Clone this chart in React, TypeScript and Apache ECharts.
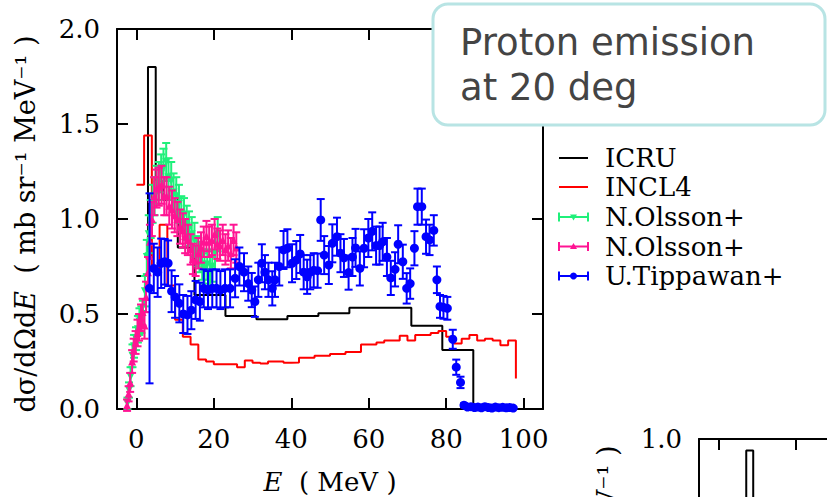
import React, { useEffect, useRef } from 'react';
import * as echarts from 'echarts';

// ---------- data ----------
const xTickValues = [0, 20, 40, 60, 80, 100];
const panel2YLabelValues = [1.0];

// ICRU histogram (step, bin lower edges + values)
const icruE = [0, 3, 5, 7, 10.7, 15, 23, 31, 39, 47, 55, 71, 79, 87];
const icruV = [0.7, 1.8, 1.2, 1.1, 0.85, 0.6, 0.49, 0.472, 0.49, 0.504, 0.533, 0.438, 0.31, 0];

// INCL4 histogram
const incl4E = [0, 2, 4, 6, 8, 10, 12, 14, 16, 18, 20, 22, 24, 26, 28, 30, 32, 34, 36, 38, 40, 42, 44, 46, 48,
  50, 52, 54, 56, 58, 60, 62, 64, 66, 68, 70, 72, 74, 76, 78, 80, 82, 84, 86, 88, 90, 92, 94, 96, 98];
const incl4V = [1.18, 1.44, 0.74, 0.97, 0.65, 0.47, 0.38, 0.34, 0.26, 0.25, 0.235, 0.235, 0.235, 0.22, 0.255,
  0.244, 0.24, 0.25, 0.25, 0.244, 0.245, 0.27, 0.27, 0.28, 0.28, 0.29, 0.29, 0.3, 0.3, 0.34, 0.34, 0.35, 0.36,
  0.36, 0.385, 0.36, 0.39, 0.39, 0.4, 0.41, 0.38, 0.345, 0.37, 0.39, 0.36, 0.37, 0.36, 0.335, 0.36, 0.16];

// N.Olsson+ (green, triangle down)
const olsson1E = [-2.3, -1.9, -1.5, -1.0, -0.6, -0.1, 0.4, 0.8, 1.3, 1.7, 2.2, 2.7, 3.2, 3.7, 4.2, 4.7, 5.2, 5.8,
  6.4, 7.0, 7.7, 8.3, 9.0, 9.6, 10.3, 11.0, 11.6, 12.3, 13.0, 13.6, 14.3, 15.0, 15.6, 16.3, 17.0, 17.6, 18.3,
  19.0, 19.6, 20.3, 21.0];
const olsson1V = [0.03, 0.1, 0.17, 0.28, 0.33, 0.37, 0.42, 0.46, 0.47, 0.5, 0.62, 0.8, 0.92, 1.0, 1.08, 1.12,
  1.18, 1.2, 1.24, 1.27, 1.3, 1.22, 1.2, 1.14, 1.12, 1.08, 1.03, 1.02, 0.98, 0.95, 0.92, 0.89, 0.83, 0.8, 0.76,
  0.74, 0.76, 0.72, 0.75, 0.82, 0.92];
const olsson1Err = [0.03, 0.04, 0.05, 0.06, 0.06, 0.06, 0.07, 0.07, 0.07, 0.07, 0.08, 0.09, 0.1, 0.1, 0.1, 0.1,
  0.1, 0.1, 0.1, 0.1, 0.1, 0.1, 0.1, 0.1, 0.1, 0.1, 0.09, 0.09, 0.09, 0.09, 0.09, 0.09, 0.08, 0.08, 0.08, 0.08,
  0.08, 0.08, 0.08, 0.09, 0.09];

// N.Olsson+ (pink, triangle up)
const olsson2E = [-2.4, -2.0, -1.6, -1.1, -0.7, -0.2, 0.3, 0.7, 1.2, 1.6, 2.1, 2.5, 3.0, 3.5, 4.0, 4.6, 5.2, 5.8,
  6.5, 7.2, 7.8, 8.5, 9.2, 9.9, 10.6, 11.3, 12.0, 12.6, 13.3, 14.0, 14.6, 15.3, 16.0, 16.7, 17.4, 18.1, 18.8,
  19.5, 20.2, 20.9, 21.6, 22.3, 23.0, 23.7, 24.4, 25.1, 25.8];
const olsson2V = [0.02, 0.08, 0.14, 0.25, 0.31, 0.35, 0.4, 0.43, 0.48, 0.51, 0.44, 0.59, 0.72, 0.88, 1.0, 1.12,
  1.16, 1.17, 1.18, 1.12, 1.12, 1.07, 1.05, 1.02, 1.0, 0.96, 0.94, 0.91, 0.89, 0.84, 0.79, 0.78, 0.82, 0.85,
  0.88, 0.91, 0.88, 0.89, 0.92, 0.87, 0.86, 0.89, 0.84, 0.86, 0.82, 0.89, 0.85];
const olsson2Err = [0.03, 0.04, 0.05, 0.06, 0.06, 0.06, 0.07, 0.07, 0.07, 0.07, 0.07, 0.08, 0.08, 0.09, 0.09,
  0.1, 0.1, 0.1, 0.1, 0.1, 0.1, 0.1, 0.1, 0.09, 0.09, 0.09, 0.09, 0.09, 0.08, 0.08, 0.08, 0.08, 0.08, 0.08,
  0.08, 0.08, 0.08, 0.08, 0.08, 0.08, 0.08, 0.08, 0.08, 0.08, 0.08, 0.08, 0.08];

// U.Tippawan+ (blue circles)
const tippE = [3.4, 4.5, 5.5, 6.4, 7.3, 8.2, 9.1, 10.0, 11.1, 12.1, 13.2, 14.2, 15.3, 16.4, 17.4, 18.5, 19.6,
  20.7, 21.7, 22.9, 24.2, 25.5, 26.6, 27.8, 28.9, 29.8, 30.6, 31.5, 32.4, 33.2, 34.1, 35.1, 35.8, 36.9, 38.0,
  39.0, 40.2, 41.3, 42.3, 43.2, 44.1, 44.9, 45.8, 46.8, 47.6, 48.5, 49.7, 50.6, 51.8, 52.7, 53.6, 54.8, 55.8,
  56.6, 57.7, 58.8, 59.9, 60.9, 61.9, 62.8, 63.6, 64.7, 65.7, 66.8, 67.6, 68.8, 69.8, 70.7, 71.8, 72.6, 73.7,
  74.8, 75.7, 76.8, 77.6, 78.4, 79.3, 80.3, 81.7, 82.6, 83.7, 84.6, 85.5, 86.4, 87.3, 88.2, 89.1, 90.0, 90.9,
  91.8, 92.7, 93.6, 94.6, 95.5, 96.4, 97.3];
const tippV = [0.635, 0.74, 0.72, 0.767, 0.775, 0.767, 0.62, 0.59, 0.556, 0.5, 0.495, 0.52, 0.574, 0.565, 0.635,
  0.626, 0.635, 0.635, 0.626, 0.635, 0.635, 0.688, 0.75, 0.72, 0.66, 0.626, 0.565, 0.68, 0.767, 0.72, 0.68,
  0.635, 0.68, 0.75, 0.837, 0.846, 0.767, 0.784, 0.816, 0.72, 0.696, 0.72, 0.73, 0.728, 0.995, 0.81, 0.758,
  0.872, 0.907, 0.82, 0.795, 0.718, 0.8, 0.848, 0.74, 0.846, 0.9, 0.935, 0.86, 0.86, 0.88, 0.8, 0.69, 0.735,
  0.867, 0.775, 0.635, 0.66, 0.846, 1.065, 1.065, 0.907, 0.89, 0.94, 0.68, 0.54, 0.535, 0.53, 0.367, 0.22, 0.14,
  0.02, 0.01, 0.012, 0.008, 0.01, 0.006, 0.012, 0.008, 0.005, 0.01, 0.007, 0.009, 0.006, 0.008, 0.005];
const tippErr = [0.5, 0.13, 0.13, 0.13, 0.12, 0.12, 0.11, 0.11, 0.1, 0.1, 0.1, 0.1, 0.1, 0.1, 0.1, 0.1, 0.1,
  0.1, 0.1, 0.1, 0.1, 0.1, 0.1, 0.1, 0.09, 0.09, 0.08, 0.09, 0.1, 0.09, 0.09, 0.09, 0.09, 0.1, 0.1, 0.1, 0.1,
  0.1, 0.1, 0.09, 0.09, 0.09, 0.09, 0.09, 0.11, 0.1, 0.1, 0.1, 0.1, 0.1, 0.1, 0.09, 0.1, 0.1, 0.09, 0.1, 0.1,
  0.1, 0.1, 0.1, 0.1, 0.1, 0.09, 0.09, 0.1, 0.09, 0.08, 0.08, 0.09, 0.095, 0.095, 0.09, 0.08, 0.08, 0.07,
  0.06, 0.06, 0.06, 0.05, 0.04, 0.03, 0.01, 0.008, 0.008, 0.008, 0.008, 0.006, 0.008, 0.006, 0.005, 0.006,
  0.005, 0.006, 0.005, 0.005, 0.004];

// second (partially visible) panel: ICRU spike
const icru2E = [0, 7.2, 9.0, 20, 40];
const icru2V = [0.35, 0.97, 0.55, 0.3, 0.2];

const legendNames = ['ICRU', 'INCL4', 'N.Olsson+', 'N.Olsson+', 'U.Tippawan+'];
const titleLines = ['Proton emission', 'at 20 deg'];

// ---------- styling ----------
const SERIF = '"DejaVu Serif", serif';
const SANS = '"DejaVu Sans", sans-serif';
const C_ICRU = '#000000';
const C_INCL = '#ff0000';
const C_OL1 = '#1ff07a';
const C_OL2 = '#ff1493';
const C_TIP = '#0000ff';

function errRender(color: string) {
  return (params: any, api: any) => {
    const x = api.value(0);
    const y = api.value(1);
    const e = api.value(2);
    const t = api.coord([x, y + e]);
    const b = api.coord([x, y - e]);
    const hw = 4;
    const st = { stroke: color, lineWidth: 2 };
    return {
      type: 'group',
      children: [
        { type: 'line', shape: { x1: t[0], y1: t[1], x2: b[0], y2: b[1] }, style: st },
        { type: 'line', shape: { x1: t[0] - hw, y1: t[1], x2: t[0] + hw, y2: t[1] }, style: st },
        { type: 'line', shape: { x1: b[0] - hw, y1: b[1], x2: b[0] + hw, y2: b[1] }, style: st },
      ],
    };
  };
}

const axisLine = { show: true, onZero: false, lineStyle: { color: '#000', width: 2 } };
const tickStyle = { show: true, inside: true, length: 11, lineStyle: { color: '#000', width: 2 } };

function buildOption() {
  const icru = icruE.map((e, i) => [e, icruV[i]]);
  const incl = incl4E.map((e, i) => [e, incl4V[i]]);
  const ol1 = olsson1E.map((e, i) => [e, olsson1V[i], olsson1Err[i]]);
  const ol2 = olsson2E.map((e, i) => [e, olsson2V[i], olsson2Err[i]]);
  const tip = tippE.map((e, i) => [e, tippV[i], tippErr[i]]);
  const icru2 = icru2E.map((e, i) => [e, icru2V[i]]);

  const legendRows = [158, 187, 217, 246.5, 276];
  const lx1 = 559, lx2 = 588, lmid = 573.5;
  const legendColors = [C_ICRU, C_INCL, C_OL1, C_OL2, C_TIP];
  const legendGraphics: any[] = [];
  legendRows.forEach((y, i) => {
    const col = legendColors[i];
    legendGraphics.push({ type: 'line', z: 50, shape: { x1: lx1, y1: y, x2: lx2, y2: y }, style: { stroke: col, lineWidth: 2 } });
    if (i >= 2) {
      legendGraphics.push({ type: 'line', z: 50, shape: { x1: lx1, y1: y - 4.5, x2: lx1, y2: y + 4.5 }, style: { stroke: col, lineWidth: 2 } });
      legendGraphics.push({ type: 'line', z: 50, shape: { x1: lx2, y1: y - 4.5, x2: lx2, y2: y + 4.5 }, style: { stroke: col, lineWidth: 2 } });
      if (i === 2) {
        legendGraphics.push({ type: 'polygon', z: 51, shape: { points: [[lmid - 3.5, y - 2.5], [lmid + 3.5, y - 2.5], [lmid, y + 3.5]] }, style: { fill: col } });
      } else if (i === 3) {
        legendGraphics.push({ type: 'polygon', z: 51, shape: { points: [[lmid - 3.5, y + 2.5], [lmid + 3.5, y + 2.5], [lmid, y - 3.5]] }, style: { fill: col } });
      } else {
        legendGraphics.push({ type: 'circle', z: 51, shape: { cx: lmid, cy: y, r: 3.5 }, style: { fill: col } });
      }
    }
    legendGraphics.push({
      type: 'text', z: 50, x: 605, y: y,
      style: { text: legendNames[i], font: `26px ${SERIF}`, fill: '#000', align: 'left', verticalAlign: 'middle' },
    });
  });

  const labelRich = {
    n: { fontFamily: SERIF, fontSize: 26, fill: '#000' },
    i: { fontFamily: SERIF, fontSize: 26, fontStyle: 'italic', fill: '#000' },
  };
  const yRich = {
    n: { fontFamily: SERIF, fontSize: 27, fill: '#000' },
    i: { fontFamily: SERIF, fontSize: 27, fontStyle: 'italic', fill: '#000' },
  };
  const yLabelText = '{n|dσ/dΩd}{i|E}{n|  ( mb sr⁻¹ MeV⁻¹ )}';

  return {
    animation: false,
    backgroundColor: '#ffffff',
    grid: [
      { left: 117, top: 29, width: 426, height: 380 },
      { left: 699, top: 439, width: 426, height: 380 },
    ],
    xAxis: [
      {
        type: 'value', gridIndex: 0, position: 'bottom', min: -5, max: 105,
        axisLine, axisTick: { ...tickStyle, customValues: xTickValues },
        axisLabel: { customValues: xTickValues, fontFamily: SERIF, fontSize: 26, color: '#000', margin: 17 },
        splitLine: { show: false },
      },
      {
        type: 'value', gridIndex: 0, position: 'top', min: -5, max: 105,
        axisLine, axisTick: { ...tickStyle, customValues: xTickValues },
        axisLabel: { show: false }, splitLine: { show: false },
      },
      {
        type: 'value', gridIndex: 1, position: 'bottom', min: -5, max: 105,
        axisLine, axisTick: { ...tickStyle, customValues: xTickValues },
        axisLabel: { show: false }, splitLine: { show: false },
      },
      {
        type: 'value', gridIndex: 1, position: 'top', min: -5, max: 105,
        axisLine, axisTick: { ...tickStyle, customValues: xTickValues },
        axisLabel: { show: false }, splitLine: { show: false },
      },
    ],
    yAxis: [
      {
        type: 'value', gridIndex: 0, position: 'left', min: 0, max: 2, interval: 0.5,
        axisLine, axisTick: tickStyle,
        axisLabel: {
          fontFamily: SERIF, fontSize: 26, color: '#000', margin: 17,
          formatter: (v: number) => v.toFixed(1),
        },
        splitLine: { show: false },
      },
      {
        type: 'value', gridIndex: 0, position: 'right', min: 0, max: 2, interval: 0.5,
        axisLine, axisTick: tickStyle, axisLabel: { show: false }, splitLine: { show: false },
      },
      {
        type: 'value', gridIndex: 1, position: 'left', min: 0, max: 1, interval: 0.2,
        axisLine, axisTick: tickStyle,
        axisLabel: {
          customValues: panel2YLabelValues,
          fontFamily: SERIF, fontSize: 26, color: '#000', margin: 17,
          formatter: (v: number) => v.toFixed(1),
        },
        splitLine: { show: false },
      },
    ],
    series: [
      {
        name: 'ICRU', type: 'line', xAxisIndex: 0, yAxisIndex: 0, step: 'end', data: icru,
        showSymbol: false, symbol: 'none', lineStyle: { color: C_ICRU, width: 2 }, z: 2,
      },
      {
        name: 'INCL4', type: 'line', xAxisIndex: 0, yAxisIndex: 0, step: 'end', data: incl,
        showSymbol: false, symbol: 'none', lineStyle: { color: C_INCL, width: 2 }, z: 2,
      },
      {
        name: 'N.Olsson+ err', type: 'custom', xAxisIndex: 0, yAxisIndex: 0, data: ol1,
        renderItem: errRender(C_OL1), encode: { x: 0, y: 1 }, z: 3,
      },
      {
        name: 'N.Olsson+', type: 'scatter', xAxisIndex: 0, yAxisIndex: 0, data: ol1.map((d) => [d[0], d[1]]),
        symbol: 'triangle', symbolRotate: 180, symbolSize: 8, itemStyle: { color: C_OL1, opacity: 1 }, z: 3,
      },
      {
        name: 'N.Olsson+ 2 err', type: 'custom', xAxisIndex: 0, yAxisIndex: 0, data: ol2,
        renderItem: errRender(C_OL2), encode: { x: 0, y: 1 }, z: 4,
      },
      {
        name: 'N.Olsson+ 2', type: 'scatter', xAxisIndex: 0, yAxisIndex: 0, data: ol2.map((d) => [d[0], d[1]]),
        symbol: 'triangle', symbolSize: 8, itemStyle: { color: C_OL2, opacity: 1 }, z: 4,
      },
      {
        name: 'U.Tippawan+ err', type: 'custom', xAxisIndex: 0, yAxisIndex: 0, data: tip,
        renderItem: errRender(C_TIP), encode: { x: 0, y: 1 }, z: 5,
      },
      {
        name: 'U.Tippawan+', type: 'scatter', xAxisIndex: 0, yAxisIndex: 0, data: tip.map((d) => [d[0], d[1]]),
        symbol: 'circle', symbolSize: 9, itemStyle: { color: C_TIP, opacity: 1 }, z: 5,
      },
      {
        name: 'ICRU 2', type: 'line', xAxisIndex: 2, yAxisIndex: 2, step: 'end', data: icru2,
        showSymbol: false, symbol: 'none', lineStyle: { color: C_ICRU, width: 2 }, z: 2,
      },
    ],
    graphic: [
      {
        type: 'text', x: 25, y: 224, rotation: Math.PI / 2, z: 40,
        style: { text: yLabelText, rich: yRich, align: 'center', verticalAlign: 'middle' },
      },
      {
        type: 'text', x: 607, y: 634, rotation: Math.PI / 2, z: 40,
        style: { text: yLabelText, rich: yRich, align: 'center', verticalAlign: 'middle' },
      },
      {
        type: 'text', x: 330, y: 482, z: 40,
        style: { text: '{i|E}{n|  ( MeV )}', rich: labelRich, align: 'center', verticalAlign: 'middle' },
      },
      ...legendGraphics,
      {
        type: 'rect', z: 100,
        shape: { x: 433, y: 4, width: 392, height: 121, r: 15 },
        style: { fill: '#ffffff', stroke: '#b8e4e4', lineWidth: 3 },
      },
      {
        type: 'text', z: 101, x: 460, y: 42,
        style: { text: titleLines[0], font: `37px ${SANS}`, fill: '#444444', align: 'left', verticalAlign: 'middle' },
      },
      {
        type: 'text', z: 101, x: 460, y: 87,
        style: { text: titleLines[1], font: `37px ${SANS}`, fill: '#444444', align: 'left', verticalAlign: 'middle' },
      },
    ],
  };
}

export default function App() {
  const ref = useRef<HTMLDivElement>(null);
  useEffect(() => {
    if (!ref.current) return;
    const chart = echarts.init(ref.current, undefined, { renderer: 'svg' });
    chart.setOption(buildOption() as any);
    return () => chart.dispose();
  }, []);
  return (
    <div
      style={{ position: 'absolute', left: 0, top: 0, width: 827, height: 497, overflow: 'hidden', background: '#fff' }}
    >
      <div ref={ref} style={{ width: 1200, height: 900 }} />
    </div>
  );
}
